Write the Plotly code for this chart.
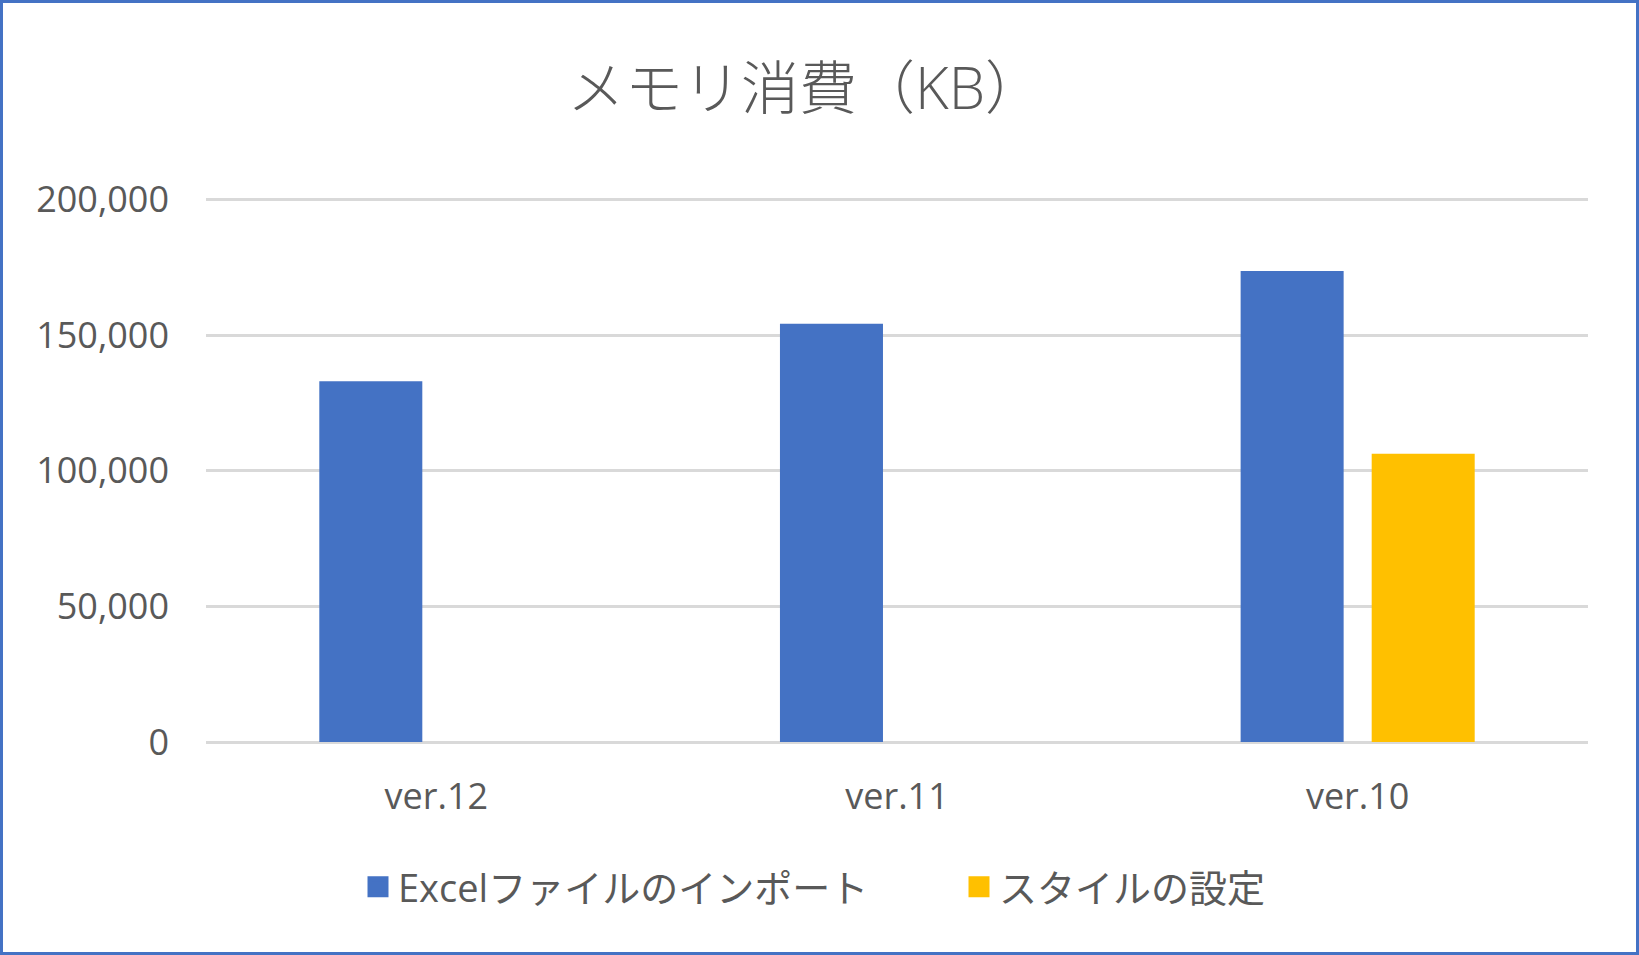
import plotly.graph_objects as go

# Data
versions = ['ver.12', 'ver.11', 'ver.10']
excel_import = [133000, 154200, 173700]
style_setting = [None, None, 106300]
series_names = ['Excelファイルのインポート', 'スタイルの設定']
y_ticks = [0, 50000, 100000, 150000, 200000]

colors = ['#4472C4', '#FFC000']
text_color = '#595959'
W, H = 1639, 955

fig = go.Figure()

# bars (legend drawn by the marker traces below, so the squares can be bigger)
for name, vals, c in zip(series_names, [excel_import, style_setting], colors):
    fig.add_trace(go.Bar(x=versions, y=vals, name=name, marker_color=c,
                         marker_line_width=0, showlegend=False, legendgroup=name))
    fig.add_trace(go.Scatter(x=[None], y=[None], mode='markers', name=name,
                             legendgroup=name,
                             marker=dict(symbol='square', size=16, color=c,
                                         line=dict(color=c, width=5))))

fig.update_layout(
    width=W, height=H,
    margin=dict(l=206, r=51, t=197, b=213),
    paper_bgcolor='white', plot_bgcolor='white',
    font=dict(family='Open Sans, Noto Sans CJK JP', size=36, color=text_color),
    title=dict(text='メモリ消費（KB）', x=805 / W, xref='container', xanchor='center',
               y=1 - 89 / H, yref='container', yanchor='middle',
               font=dict(size=58, color=text_color, weight=300)),
    barmode='group', bargap=0.431, bargroupgap=0.214,
    legend=dict(orientation='h', xref='container', x=358 / W, xanchor='left',
                yref='container', y=1 - 887 / H, yanchor='middle',
                font=dict(size=38), itemsizing='trace', entrywidth=556),
)

# top of range a hair above 200,000 so its gridline is not clipped
fig.update_yaxes(range=[0, 200950], tickvals=y_ticks,
                 tickformat=',d', showgrid=True, gridcolor='#D9D9D9', gridwidth=2.5,
                 zeroline=True, zerolinecolor='#D9D9D9', zerolinewidth=2.5,
                 showline=False, ticks='', ticklabelstandoff=36)
fig.update_xaxes(showgrid=False, showline=False, ticks='', ticklabelstandoff=30)

# outer chart border
fig.add_shape(type='rect', xref='paper', yref='paper',
              x0=(1.5 - 206) / 1382, x1=1 + 49.5 / 1382,
              y0=-211.5 / 545, y1=1 + 195.5 / 545,
              line=dict(color='#4472C4', width=3), fillcolor='rgba(0,0,0,0)')

fig.write_html('out.html', config={'displayModeBar': False},
               post_script="document.body.style.margin='0';")
